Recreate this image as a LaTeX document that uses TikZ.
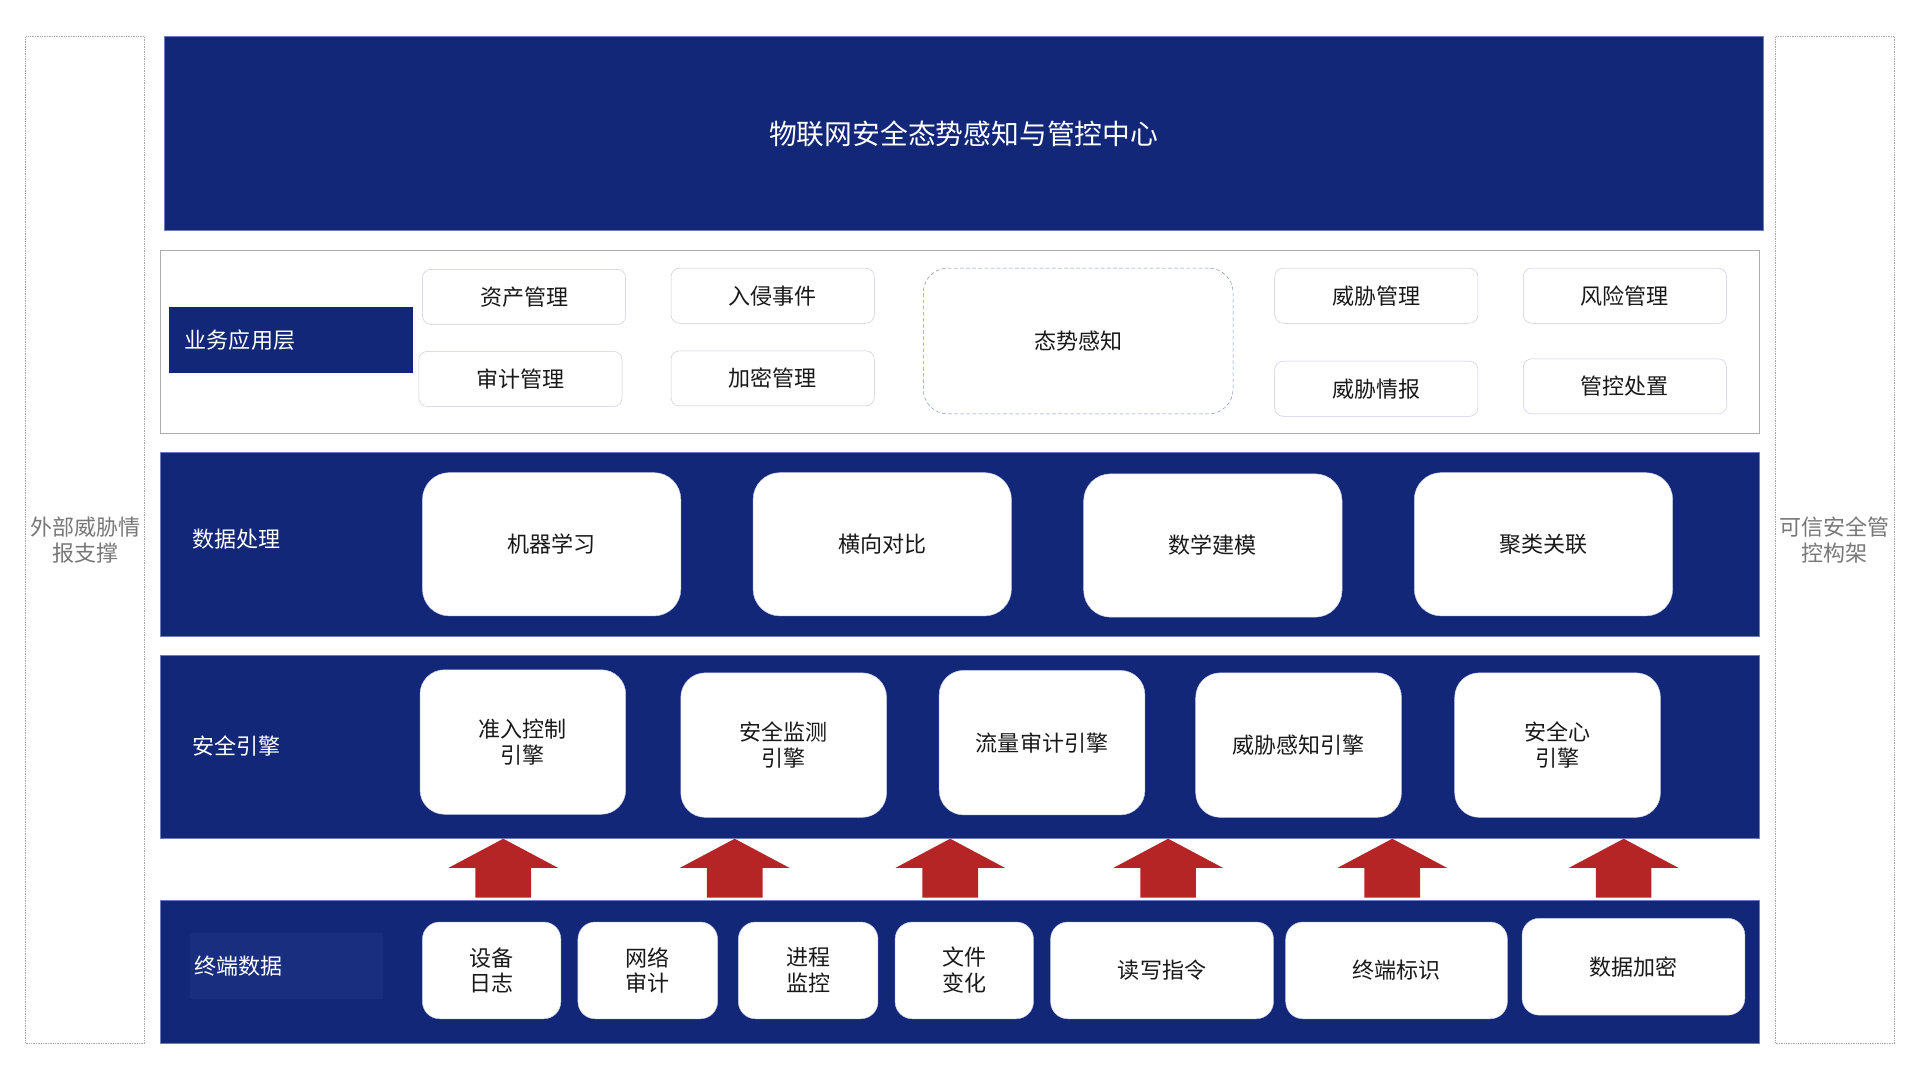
\documentclass[tikz,border=0pt]{standalone}
\usepackage{fontspec}
\setmainfont{Noto Sans CJK SC}
\definecolor{navy}{RGB}{18,39,120}
\definecolor{navylight}{RGB}{25,46,126}
\definecolor{bandline}{RGB}{110,125,185}
\definecolor{lavender}{RGB}{200,204,230}
\definecolor{dashblue}{RGB}{130,140,200}
\definecolor{arrowred}{RGB}{181,37,38}
\definecolor{sidegray}{RGB}{120,120,120}
\definecolor{textdark}{RGB}{25,25,25}
\tikzset{
	txt/.style={font=\fontsize{18pt}{21pt}\selectfont, align=center, inner sep=0pt},
	sidebox/.style={txt, draw=gray!70, densely dotted, text=sidegray, minimum width=97, minimum height=822},
	band/.style={fill=navy, draw=bandline, line width=0.5pt, minimum width=1306, inner sep=0pt},
	bandlabel/.style={txt, text=white, anchor=west},
	appbox/.style={txt, draw=lavender, fill=white, rounded corners=7pt, minimum width=166, minimum height=45, text=textdark},
	databox/.style={txt, fill=white, draw=lavender, rounded corners=22pt, minimum width=211, minimum height=117, text=textdark},
	enginebox/.style={txt, fill=white, draw=lavender, rounded corners=20pt, minimum width=168, minimum height=118, text=textdark},
	termbox/.style={txt, fill=white, draw=lavender, rounded corners=14pt, minimum height=79, text=textdark},
	uparrow/.style={single arrow, fill=arrowred, draw=none, rotate=90, minimum height=48, inner xsep=0pt, inner ysep=22.5pt, single arrow head extend=22pt, single arrow tip angle=124}
}
\usetikzlibrary{shapes.arrows}
\begin{document}
\begin{tikzpicture}[x=1pt, y=-1pt]
	\useasboundingbox (0,0) rectangle (1568,882);
	
	% side frames
	\node[sidebox] (ext) at (69.5,441) {外部威胁情\\报支撑};
	\node[sidebox] (trust) at (1498.5,441) {可信安全管\\控构架};
	
	% top centre
	\node[band, minimum height=158, txt, font=\fontsize{22.7pt}{26pt}\selectfont, text=white] (centre) at (787,109) {物联网安全态势感知与管控中心};
	
	% business layer
	\node[draw=gray!65, fill=white, minimum width=1306, minimum height=150] (app) at (784,279) {};
	\node[txt, fill=navy, text=white, minimum height=54, text width=173, align=left, inner xsep=13pt] (applabel) at (237.5,278) {业务应用层};
	\node[appbox] (asset) at (428,242.5) {资产管理};
	\node[appbox] (audit) at (425,309.5) {审计管理};
	\node[appbox] (intrude) at (631,241.5) {入侵事件};
	\node[appbox] (crypt) at (631,309) {加密管理};
	\node[appbox, draw=dashblue, densely dashed, rounded corners=20pt, minimum width=253, minimum height=119] (aware) at (880.5,278.5) {态势感知};
	\node[appbox] (threat) at (1124,241.5) {威胁管理};
	\node[appbox] (intel) at (1124,317.5) {威胁情报};
	\node[appbox] (risk) at (1327,241.5) {风险管理};
	\node[appbox] (dispose) at (1327,315.5) {管控处置};
	
	% data processing
	\node[band, minimum height=151] (data) at (784,444.5) {};
	\node[bandlabel] (datalabel) at (157,440) {数据处理};
	\node[databox] (ml) at (450.5,444.5) {机器学习};
	\node[databox] (cmp) at (720.5,444.5) {横向对比};
	\node[databox] (model) at (990.5,445.5) {数学建模};
	\node[databox] (cluster) at (1260.5,444.5) {聚类关联};
	
	% security engines
	\node[band, minimum height=150] (engine) at (784,610) {};
	\node[bandlabel] (enginelabel) at (157,609) {安全引擎};
	\node[enginebox] (access) at (427,606) {准入控制\\引擎};
	\node[enginebox] (monitor) at (640,608.5) {安全监测\\引擎};
	\node[enginebox] (flow) at (851,606.5) {流量审计引擎};
	\node[enginebox] (sense) at (1060.5,608.5) {威胁感知引擎};
	\node[enginebox] (heart) at (1272,608.5) {安全心\\引擎};
	
	% terminal data
	\node[band, minimum height=117] (term) at (784,793.5) {};
	\node[txt, fill=navylight, text=white, minimum height=54, text width=150, align=left, inner xsep=4pt] (termlabel) at (234,789) {终端数据};
	\node[termbox, minimum width=113] (dev) at (401.5,792.5) {设备\\日志};
	\node[termbox, minimum width=114] (net) at (529,792.5) {网络\\审计};
	\node[termbox, minimum width=114] (proc) at (660,792.5) {进程\\监控};
	\node[termbox, minimum width=113] (file) at (787.5,792.5) {文件\\变化};
	\node[termbox, minimum width=182] (rw) at (949,792.5) {读写指令};
	\node[termbox, minimum width=181] (ident) at (1140.5,792.5) {终端标识};
	\node[termbox, minimum width=182] (enc) at (1334,789.5) {数据加密};
	
	% arrows from terminal data up to the engines
	\foreach \x [count=\i] in {411,600,776,954,1137,1326}
		\node[uparrow] (arr\i) at (\x,715) {};
\end{tikzpicture}
\end{document}
